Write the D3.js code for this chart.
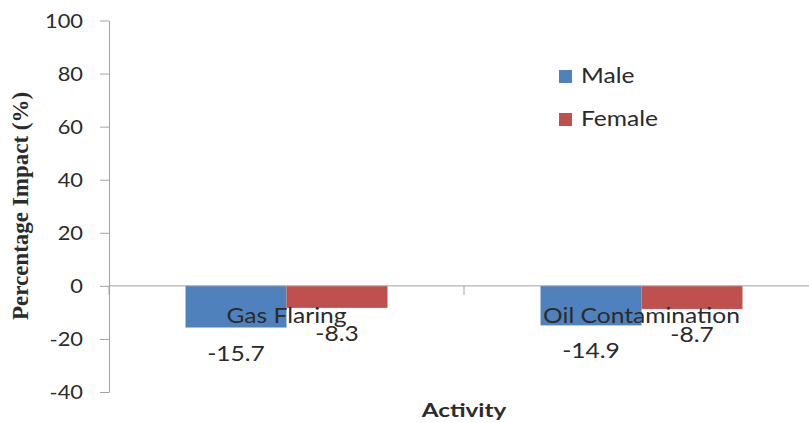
<!DOCTYPE html>
<html>
<head>
<meta charset="utf-8">
<script src="https://cdn.jsdelivr.net/npm/d3@7"></script>
<style>
  body { margin: 0; background: #fff; }
  svg { display: block; }
  text { font-family: Lato, "Open Sans", sans-serif; fill: #2b2b2b; }
</style>
</head>
<body>
<div id="chart"></div>
<script>
// Dados do gráfico
const categories = ['Gas Flaring', 'Oil Contamination'];
const seriesNames = ['Male', 'Female'];
const maleValues = [-15.7, -14.9];
const femaleValues = [-8.3, -8.7];
const yTicks = [100, 80, 60, 40, 20, 0, -20, -40];
const seriesColors = ['#4F81BD', '#C0504D'];

const width = 809;
const height = 423;
const SX = 1.15;        // esticamento horizontal dos rótulos dos ticks
const SL = 1.2;         // esticamento dos demais textos
const axisColor = '#a3a3a3';

const svg = d3.select('#chart')
  .append('svg')
  .attr('width', width)
  .attr('height', height);

// Escalas
const y = d3.scaleLinear()
  .domain([-40, 100])
  .range([392, 20.5]);

const x0 = d3.scaleBand()
  .domain(categories)
  .range([109, 819])
  .paddingInner(0.431)
  .paddingOuter(0.2155);

const x1 = d3.scaleBand()
  .domain(seriesNames)
  .range([0, x0.bandwidth()])
  .padding(0);

const values = { Male: maleValues, Female: femaleValues };
const rows = [];
categories.forEach((c, i) => {
  seriesNames.forEach(s => rows.push({ category: c, series: s, value: values[s][i] }));
});

// Eixo Y
const yAxis = svg.append('g')
  .attr('transform', 'translate(109,0)')
  .call(d3.axisLeft(y).tickValues(yTicks).tickSize(9).tickSizeOuter(0).tickFormat(d => String(d)));
yAxis.select('.domain').attr('stroke', axisColor);
yAxis.selectAll('.tick line').attr('stroke', axisColor);
yAxis.selectAll('.tick text')
  .attr('x', -26 / SX)
  .attr('dy', '0.36em')
  .attr('transform', `scale(${SX},1)`)
  .style('font-size', '19px')
  .style('font-family', 'Lato, sans-serif')
  .attr('fill', '#2b2b2b');

// Barras
svg.append('g')
  .selectAll('rect')
  .data(rows)
  .join('rect')
  .attr('x', d => x0(d.category) + x1(d.series))
  .attr('y', d => y(Math.max(0, d.value)))
  .attr('width', x1.bandwidth())
  .attr('height', d => Math.abs(y(d.value) - y(0)))
  .attr('fill', d => seriesColors[seriesNames.indexOf(d.series)]);

// Eixo X na linha do zero
const xAxis = svg.append('g')
  .attr('transform', `translate(0,${y(0)})`);
xAxis.append('line')
  .attr('x1', 109).attr('x2', 819)
  .attr('stroke', axisColor);
xAxis.selectAll('line.tick')
  .data([109, (x0(categories[0]) + x0(categories[1]) + x0.bandwidth()) / 2, 819])
  .join('line')
  .attr('class', 'tick')
  .attr('x1', d => d).attr('x2', d => d)
  .attr('y1', 0).attr('y2', 9)
  .attr('stroke', axisColor);

// Rótulos das categorias (sobre as barras, como no original)
svg.append('g')
  .selectAll('text')
  .data(categories)
  .join('text')
  .attr('transform', d => `translate(${x0(d) + x0.bandwidth() / 2},${y(0) + 37}) scale(${SL},1)`)
  .attr('text-anchor', 'middle')
  .style('font-size', '20.5px')
  .text(d => d);

// Rótulos de valores abaixo das barras
svg.append('g')
  .selectAll('text')
  .data(rows)
  .join('text')
  .attr('transform', d => `translate(${x0(d.category) + x1(d.series) + x1.bandwidth() / 2},${y(d.value) + 33}) scale(${SL},1)`)
  .attr('text-anchor', 'middle')
  .style('font-size', '20.5px')
  .text(d => d.value.toFixed(1));

// Legenda
const legend = svg.append('g')
  .selectAll('g')
  .data(seriesNames)
  .join('g')
  .attr('transform', (d, i) => `translate(559,${70 + i * 43})`);
legend.append('rect')
  .attr('width', 13).attr('height', 13)
  .attr('fill', (d, i) => seriesColors[i]);
legend.append('text')
  .attr('transform', `translate(22,13) scale(${SL},1)`)
  .style('font-size', '20.5px')
  .text(d => d);

// Título do eixo Y
svg.append('text')
  .attr('transform', 'translate(28,206) rotate(-90)')
  .attr('text-anchor', 'middle')
  .style('font-family', '"Liberation Serif", "Times New Roman", serif')
  .style('font-weight', 'bold')
  .style('font-size', '23px')
  .attr('fill', '#000')
  .text('Percentage Impact (%)');

// Título do eixo X
svg.append('text')
  .attr('transform', 'translate(464,417) scale(1.35,1)')
  .attr('text-anchor', 'middle')
  .style('font-weight', 'bold')
  .style('font-size', '18px')
  .attr('fill', '#1a1a1a')
  .text('Activity');
</script>
</body>
</html>
